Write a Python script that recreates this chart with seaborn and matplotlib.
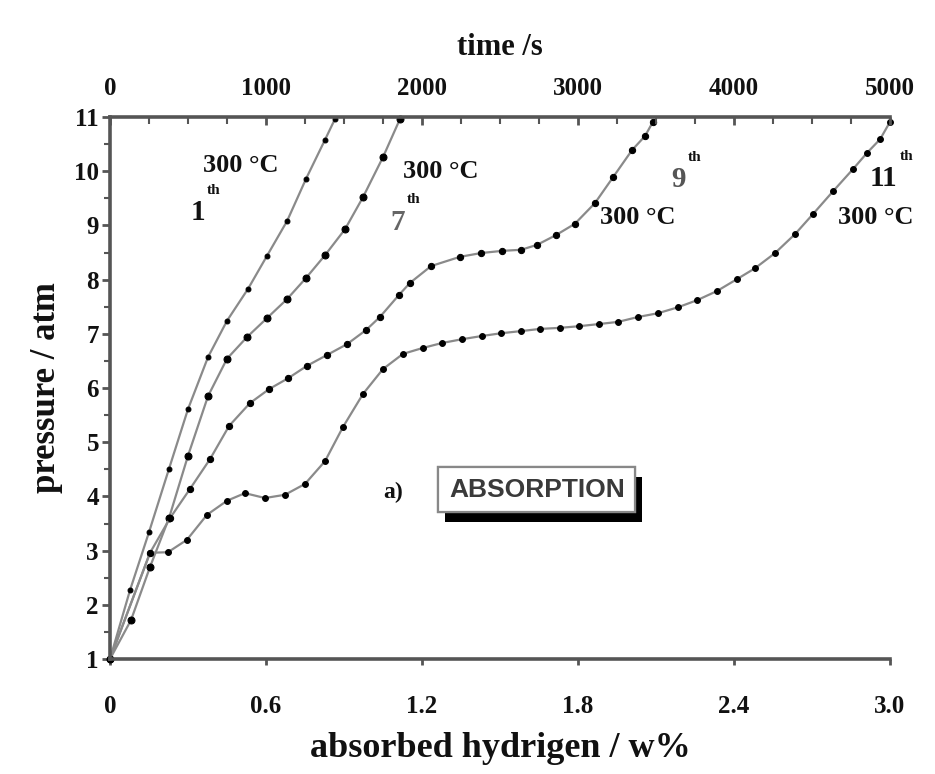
import numpy as np
import pandas as pd
import matplotlib
matplotlib.use("Agg")
import matplotlib.pyplot as plt
import seaborn as sns
from matplotlib import patheffects as pe
from matplotlib.ticker import MultipleLocator

# ---- data (absorbed hydrogen w% vs pressure atm) ----
h_1st = [0.0, 0.077, 0.150, 0.227, 0.300, 0.377, 0.450, 0.531, 0.604, 0.681, 0.754, 0.827, 0.865]
p_1st = [1.0, 2.27, 3.34, 4.51, 5.61, 6.57, 7.24, 7.83, 8.44, 9.08, 9.86, 10.58, 10.96]

h_7th = [0.0, 0.081, 0.154, 0.227, 0.300, 0.377, 0.450, 0.527, 0.604, 0.681, 0.754, 0.827, 0.904, 0.973, 1.050, 1.115]
p_7th = [1.0, 1.72, 2.70, 3.60, 4.75, 5.85, 6.54, 6.94, 7.29, 7.64, 8.03, 8.45, 8.93, 9.52, 10.26, 10.96]

h_9th = [0.0, 0.154, 0.231, 0.308, 0.385, 0.458, 0.538, 0.612, 0.685, 0.758, 0.835, 0.912, 0.985,
         1.038, 1.112, 1.154, 1.235, 1.346, 1.427, 1.508, 1.581, 1.642, 1.715, 1.788, 1.865, 1.935,
         2.008, 2.058, 2.088]
p_9th = [1.0, 2.96, 3.60, 4.14, 4.69, 5.30, 5.72, 5.98, 6.18, 6.41, 6.61, 6.81, 7.07,
         7.31, 7.72, 7.94, 8.25, 8.42, 8.49, 8.53, 8.55, 8.64, 8.82, 9.03, 9.41, 9.89,
         10.39, 10.65, 10.91]

h_11th = [0.0, 0.154, 0.223, 0.296, 0.373, 0.450, 0.519, 0.596, 0.673, 0.750, 0.827, 0.896, 0.973,
          1.050, 1.127, 1.204, 1.277, 1.354, 1.431, 1.504, 1.581, 1.654, 1.731, 1.804, 1.881,
          1.954, 2.031, 2.108, 2.185, 2.258, 2.335, 2.412, 2.481, 2.558, 2.635, 2.704, 2.781,
          2.858, 2.912, 2.962, 3.0]
p_11th = [1.0, 2.96, 2.97, 3.20, 3.66, 3.92, 4.06, 3.97, 4.03, 4.23, 4.65, 5.28, 5.89,
          6.35, 6.63, 6.74, 6.83, 6.90, 6.96, 7.01, 7.05, 7.09, 7.11, 7.14, 7.18,
          7.22, 7.31, 7.38, 7.49, 7.62, 7.79, 8.01, 8.21, 8.49, 8.84, 9.21, 9.63,
          10.04, 10.34, 10.59, 10.91]

h_ticks = [0, 0.6, 1.2, 1.8, 2.4, 3.0]
h_tick_labels = ["0", "0.6", "1.2", "1.8", "2.4", "3.0"]
p_ticks = [1, 2, 3, 4, 5, 6, 7, 8, 9, 10, 11]
time_ticks = [0, 1000, 2000, 3000, 4000, 5000]
time_tick_labels = ["0", "1000", "2000", "3000", "4000", "5000"]

sns.set_theme(style="white")
plt.rcParams["font.family"] = ["Liberation Serif", "DejaVu Serif"]
plt.rcParams["font.weight"] = "bold"

fig = plt.figure(figsize=(9.35, 7.74), dpi=100)
ax = fig.add_axes([110 / 935, 1 - 659 / 774, 780 / 935, 542 / 774])

line_col = "#8a8a8a"
series = [(h_1st, p_1st, 3.5), (h_7th, p_7th, 5.0), (h_9th, p_9th, 4.5), (h_11th, p_11th, 4.2)]
for xs, ps, ms in series:
    df = pd.DataFrame({"h": xs, "p": ps})
    sns.lineplot(data=df, x="h", y="p", ax=ax, color=line_col, linewidth=1.6,
                 marker="o", markersize=ms, markerfacecolor="black",
                 markeredgecolor="black", sort=False, estimator=None, clip_on=False)

ax.set_xlim(0, 3.0)
ax.set_ylim(1, 11)
ax.set_xticks(h_ticks)
ax.set_xticklabels(h_tick_labels)
ax.set_yticks(p_ticks)
ax.yaxis.set_minor_locator(MultipleLocator(0.5))

spine_col = "#555555"
for s in ["top", "right"]:
    ax.spines[s].set_visible(False)
for s in ["left", "bottom"]:
    ax.spines[s].set_color(spine_col)
    ax.spines[s].set_linewidth(2.6)

ax.tick_params(axis="x", which="major", direction="out", length=4, width=2, color=spine_col,
               bottom=True, pad=22, labelsize=18, labelcolor="#111111")
ax.tick_params(axis="y", which="major", direction="out", length=6, width=2, color=spine_col,
               left=True, pad=2, labelsize=18, labelcolor="#111111")
ax.tick_params(axis="y", which="minor", direction="out", length=4, width=1.5, color=spine_col, left=True)
for lab in ax.get_xticklabels() + ax.get_yticklabels():
    lab.set_fontweight("bold")

ax.set_xlabel("absorbed hydrigen / w%", fontsize=26, fontweight="bold", labelpad=10, color="#111111")
ax.set_ylabel("pressure / atm", fontsize=25, fontweight="bold", labelpad=8, color="#111111")

# top time axis
ax2 = ax.twiny()
ax2.set_xlim(0, 5000)
ax2.set_xticks(time_ticks)
ax2.set_xticklabels(time_tick_labels)
ax2.xaxis.set_minor_locator(MultipleLocator(250))
for s in ["left", "right", "bottom"]:
    ax2.spines[s].set_visible(False)
ax2.spines["top"].set_color(spine_col)
ax2.spines["top"].set_linewidth(2.6)
ax2.tick_params(axis="x", which="major", direction="in", length=6, width=2, color=spine_col,
                top=True, pad=12, labelsize=18, labelcolor="#111111")
ax2.tick_params(axis="x", which="minor", direction="in", length=5, width=1.5, color=spine_col, top=True)
for lab in ax2.get_xticklabels():
    lab.set_fontweight("bold")
ax2.set_xlabel("time /s", fontsize=22, fontweight="bold", labelpad=16, color="#111111")
ax2.grid(False)
ax.grid(False)

# annotations
ann = dict(fontsize=19, fontweight="bold", color="#111111", family="Liberation Serif")
ax.text(0.358, 10.11, "300 °C", ha="left", va="center", **ann)
ax.text(1.127, 9.99, "300 °C", ha="left", va="center", **ann)
ax.text(1.885, 9.14, "300 °C", ha="left", va="center", **ann)
ax.text(2.80, 9.15, "300 °C", ha="left", va="center", **ann)

num = dict(fontsize=21, fontweight="bold", family="Liberation Serif", ha="left", va="center")
sup = dict(fontsize=11, fontweight="bold", family="Liberation Serif", ha="left", va="center", color="#111111")
for xx, yy, n, c in [(0.31, 9.23, "1", "#111111"), (1.077, 9.06, "7", "#666666"),
                     (2.16, 9.84, "9", "#555555"), (2.92, 9.87, "11", "#111111")]:
    ax.text(xx, yy, n, color=c, **num)
    ax.annotate("th", xy=(xx, yy), xytext=(10 * len(n) + 2, 16), textcoords="offset points", **sup)

ax.text(1.088, 4.08, "a)", ha="center", va="center", fontsize=17, fontweight="bold",
        family="Liberation Serif", color="#111111")
box = ax.text(1.642, 4.12, "ABSORPTION", ha="center", va="center", fontsize=19,
              fontweight="bold", family="Liberation Sans", color="#3a3a3a",
              bbox=dict(boxstyle="square,pad=0.4", fc="white", ec="#888888", lw=1.6))
box.get_bbox_patch().set_path_effects([
    pe.withSimplePatchShadow(offset=(5, -7), shadow_rgbFace="black", alpha=1.0), pe.Normal()])

fig.savefig("out.png", dpi=100)
